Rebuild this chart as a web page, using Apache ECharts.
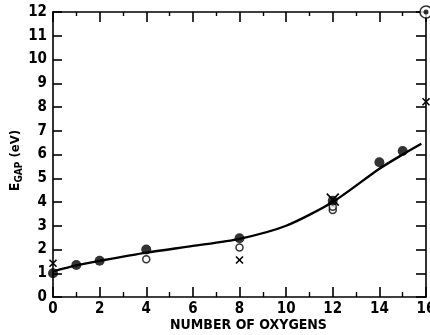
<!DOCTYPE html>
<html>
<head>
<meta charset="utf-8">
<script src="https://cdn.jsdelivr.net/npm/echarts@6/dist/echarts.min.js"></script>
<style>
  html, body { margin: 0; padding: 0; background: #fff; }
  #chart { width: 430px; height: 335px; }
</style>
</head>
<body>
<div id="chart"></div>
<script>
// Band gap vs. number of oxygens
const xTicks = [0, 2, 4, 6, 8, 10, 12, 14, 16];
const yTicks = [0, 1, 2, 3, 4, 5, 6, 7, 8, 9, 10, 11, 12];

// fitted trend curve
const curvePts = [[0, 1.08], [1, 1.33], [2, 1.52], [4, 1.87], [6, 2.15], [8, 2.45],
                  [10, 3.0], [12, 4.0], [14, 5.4], [15, 6.0], [15.8, 6.45]];
// filled circles
const filledPts = [[0, 1.0], [1, 1.35], [2, 1.53], [4, 2.0], [8, 2.47], [12, 4.05], [14, 5.67], [15, 6.15]];
// open circles
const openPts = [[4, 1.59], [8, 2.08], [12, 3.66], [12, 3.8]];
// crosses: [x, y, size]
const crossPts = [[0, 1.42, 7], [8, 1.56, 7], [12, 4.1, 12], [16, 8.22, 7]];
// circled dot
const circledDotPts = [[16, 12]];

const FONT = "'Liberation Sans Narrow', 'DejaVu Sans Condensed', 'Liberation Sans', sans-serif";
const INK = '#000';

const chart = echarts.init(document.getElementById('chart'), null, { renderer: 'canvas' });

const axisCommon = {
  min: 0,
  axisLine: { show: true, onZero: false, lineStyle: { color: INK, width: 1.6 } },
  splitLine: { show: false },
};

chart.setOption({
  animation: false,
  backgroundColor: '#fff',
  grid: { left: 53, right: 4, top: 12, bottom: 38, containLabel: false, outerBoundsMode: 'none' },
  xAxis: [
    Object.assign({}, axisCommon, {
      type: 'value', position: 'bottom', max: 16, interval: 2,
      axisTick: { show: true, inside: true, length: 10, lineStyle: { color: INK, width: 1.6 } },
      minorTick: { show: true, splitNumber: 2, length: 5, lineStyle: { color: INK, width: 1.4 } },
      axisLabel: { color: INK, fontFamily: FONT, fontWeight: 'bold', fontSize: 15, margin: 5,
                   formatter: v => (xTicks.indexOf(v) >= 0 ? String(v) : '') },
      name: 'NUMBER OF OXYGENS', nameLocation: 'middle', nameGap: 21, nameMoveOverlap: false,
      nameTextStyle: { color: INK, fontFamily: FONT, fontWeight: 'bold', fontSize: 14, padding: [0, 0, 0, 18] },
    }),
    Object.assign({}, axisCommon, {
      type: 'value', position: 'top', max: 16, interval: 2,
      axisTick: { show: true, inside: true, length: 10, lineStyle: { color: INK, width: 1.6 } },
      minorTick: { show: true, splitNumber: 2, length: 4, lineStyle: { color: INK, width: 1.4 } },
      axisLabel: { show: false },
    }),
  ],
  yAxis: [
    Object.assign({}, axisCommon, {
      type: 'value', position: 'left', max: 12, interval: 1,
      axisTick: { show: true, inside: true, length: 9, lineStyle: { color: INK, width: 1.6 } },
      axisLabel: { color: INK, fontFamily: FONT, fontWeight: 'bold', fontSize: 15, margin: 6,
                   formatter: v => (yTicks.indexOf(v) >= 0 ? String(v) : '') },
      name: '{e|E}{s|GAP}{n| (eV)}', nameLocation: 'middle', nameGap: 29, nameRotate: 90,
      nameMoveOverlap: false,
      nameTextStyle: {
        color: INK, fontFamily: FONT, fontWeight: 'bold', padding: [0, 12, 0, 0],
        rich: {
          e: { fontFamily: FONT, fontWeight: 'bold', fontSize: 14, lineHeight: 17, color: INK },
          s: { fontFamily: FONT, fontWeight: 'bold', fontSize: 10, lineHeight: 17, verticalAlign: 'bottom', color: INK },
          n: { fontFamily: FONT, fontWeight: 'bold', fontSize: 13, lineHeight: 17, color: INK },
        },
      },
    }),
    Object.assign({}, axisCommon, {
      type: 'value', position: 'right', max: 12, interval: 1,
      axisTick: { show: true, inside: true, length: 10, lineStyle: { color: INK, width: 1.6 } },
      axisLabel: { show: false },
    }),
  ],
  series: [
    {
      type: 'line', data: curvePts, smooth: 0.25, showSymbol: false,
      lineStyle: { color: INK, width: 2.4 }, z: 2,
    },
    {
      type: 'scatter', data: openPts, symbol: 'circle', symbolSize: 7, clip: false,
      itemStyle: { color: '#fff', borderColor: INK, borderWidth: 1.5 }, z: 3,
    },
    {
      type: 'scatter', data: filledPts, symbol: 'circle', symbolSize: 10, clip: false,
      itemStyle: { color: INK }, z: 4,
    },
    {
      type: 'scatter', data: circledDotPts, symbol: 'circle', symbolSize: 12, clip: false,
      itemStyle: { color: '#fff', borderColor: INK, borderWidth: 1.6 }, z: 4,
    },
    {
      type: 'scatter', data: circledDotPts, symbol: 'circle', symbolSize: 5, clip: false,
      itemStyle: { color: INK }, z: 5,
    },
    {
      type: 'custom', clip: false, z: 6,
      data: crossPts,
      renderItem: function (params, api) {
        const c = api.coord([api.value(0), api.value(1)]);
        const h = api.value(2) / 2;
        const st = { stroke: INK, lineWidth: 1.6 };
        return {
          type: 'group',
          children: [
            { type: 'line', shape: { x1: c[0] - h, y1: c[1] - h, x2: c[0] + h, y2: c[1] + h }, style: st },
            { type: 'line', shape: { x1: c[0] - h, y1: c[1] + h, x2: c[0] + h, y2: c[1] - h }, style: st },
          ],
        };
      },
    },
  ],
});
</script>
</body>
</html>
